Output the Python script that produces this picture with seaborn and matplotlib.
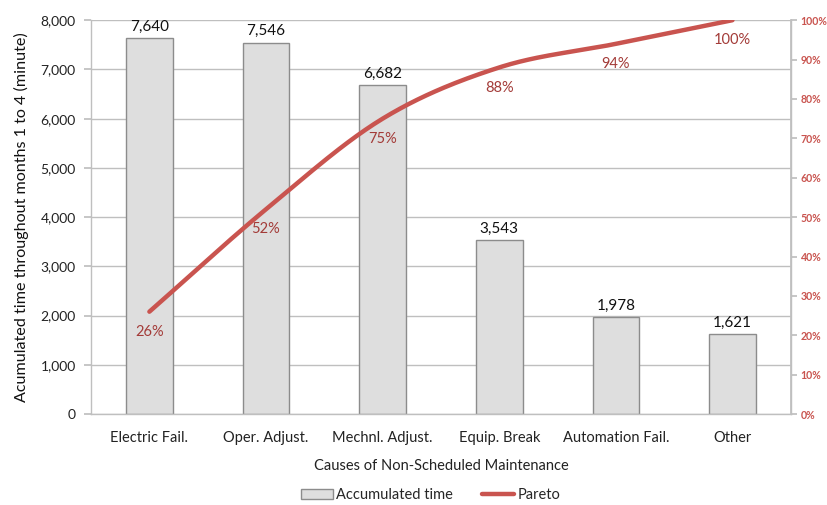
import numpy as np
import matplotlib
matplotlib.use("Agg")
import matplotlib.pyplot as plt
from matplotlib.patches import Patch
from matplotlib.lines import Line2D
from matplotlib.ticker import FuncFormatter, MultipleLocator
import seaborn as sns

# Causes of non-scheduled maintenance, accumulated minutes (months 1-4)
categories = ["Electric Fail.", "Oper. Adjust.", "Mechnl. Adjust.",
              "Equip. Break", "Automation Fail.", "Other"]
minutes = [7640, 7546, 6682, 3543, 1978, 1621]
pareto_pct = [26, 52, 75, 88, 94, 100]

sns.set_theme(style="white")
plt.rcParams["font.family"] = ["Lato", "DejaVu Sans"]

BAR_FILL = "#DEDEDE"
BAR_EDGE = "#8C8C8C"
GRID = "#BFBFBF"
RED = "#C9544F"
RED_TEXT = "#A33B38"

fig = plt.figure(figsize=(8.28, 5.05), dpi=100)
ax = fig.add_axes([0.110, 0.180, 0.845, 0.780])

sns.barplot(x=categories, y=minutes, color=BAR_FILL, edgecolor=BAR_EDGE,
            linewidth=1.0, width=0.4, saturation=1, ax=ax, zorder=2)

ax.set_ylim(0, 8000)
ax.set_xlim(-0.5, len(categories) - 0.5)
ax.yaxis.set_major_locator(MultipleLocator(1000))
ax.yaxis.set_major_formatter(FuncFormatter(lambda v, _: f"{int(v):,}"))
ax.grid(axis="y", color=GRID, linewidth=1.0, zorder=0)
ax.set_axisbelow(True)

ax.spines["top"].set_visible(False)
for side in ("left", "bottom", "right"):
    ax.spines[side].set_color(GRID)
    ax.spines[side].set_linewidth(1.0)

ax.tick_params(axis="y", which="major", direction="out", length=5,
               color=GRID, labelsize=10, labelcolor="#222222", pad=6)
ax.set_xticks(range(len(categories)))
ax.set_xticklabels(categories)
ax.set_xticks(np.arange(-0.5, len(categories), 1.0), minor=True)
ax.tick_params(axis="x", which="major", length=0, labelsize=10.5,
               labelcolor="#222222", pad=12)
ax.tick_params(axis="x", which="minor", direction="out", length=7,
               color=GRID)

ax.set_ylabel("Acumulated time throughout months 1 to 4 (minute)",
              fontsize=11.6, color="#111111", labelpad=8)
ax.set_xlabel("Causes of Non-Scheduled Maintenance", fontsize=10.5,
              color="#222222", labelpad=10)

# value labels above the bars
for i, v in enumerate(minutes):
    ax.annotate(f"{v:,}", (i, v), xytext=(0, 3), textcoords="offset points",
                ha="center", va="bottom", fontsize=11, color="#111111")

# cumulative share on a secondary axis, drawn as a smoothed curve
ax2 = ax.twinx()
ax2.set_ylim(0, 100)
ax2.set_position(ax.get_position())

xk = np.arange(len(pareto_pct), dtype=float)
yk = np.array(pareto_pct, dtype=float)


def catmull_rom(x, y, n=40):
    px = np.concatenate([[2 * x[0] - x[1]], x, [2 * x[-1] - x[-2]]])
    py = np.concatenate([[2 * y[0] - y[1]], y, [2 * y[-1] - y[-2]]])
    ox, oy = [], []
    t = np.linspace(0, 1, n, endpoint=False)
    for k in range(1, len(px) - 2):
        p0, p1, p2, p3 = (np.array([px[j], py[j]]) for j in range(k - 1, k + 3))
        t2, t3 = t * t, t * t * t
        pts = 0.5 * ((2 * p1)[:, None] + (-p0 + p2)[:, None] * t
                     + (2 * p0 - 5 * p1 + 4 * p2 - p3)[:, None] * t2
                     + (-p0 + 3 * p1 - 3 * p2 + p3)[:, None] * t3)
        ox.extend(pts[0]); oy.extend(pts[1])
    ox.append(x[-1]); oy.append(y[-1])
    return np.array(ox), np.array(oy)


sx, sy = catmull_rom(xk, yk)
sns.lineplot(x=sx, y=sy, ax=ax2, color=RED, linewidth=3.2, sort=False,
             solid_capstyle="round", zorder=3)

for i, p in enumerate(pareto_pct):
    ax2.annotate(f"{p}%", (i, p), xytext=(0, -14.5), textcoords="offset points",
                 ha="center", va="center", fontsize=10.5, color=RED_TEXT)

ax2.yaxis.set_major_locator(MultipleLocator(10))
ax2.yaxis.set_major_formatter(FuncFormatter(lambda v, _: f"{int(v)}%"))
ax2.tick_params(axis="y", direction="out", length=4, color=GRID,
                labelsize=7.6, labelcolor=RED, pad=3)
for lab in ax2.get_yticklabels():
    lab.set_fontweight("bold")
for side in ("top", "left", "bottom"):
    ax2.spines[side].set_visible(False)
ax2.spines["right"].set_color(GRID)
ax2.set_ylabel("")
ax2.grid(False)

handles = [Patch(facecolor=BAR_FILL, edgecolor=BAR_EDGE, linewidth=1.0),
           Line2D([0], [0], color=RED, linewidth=3.2)]
fig.legend(handles, ["Accumulated time", "Pareto"], loc="center",
           bbox_to_anchor=(0.52, 0.02), ncol=2, frameon=False, fontsize=10.5,
           handlelength=2.2, handletextpad=0.2, columnspacing=2.0)

fig.savefig("out.png", dpi=100)
